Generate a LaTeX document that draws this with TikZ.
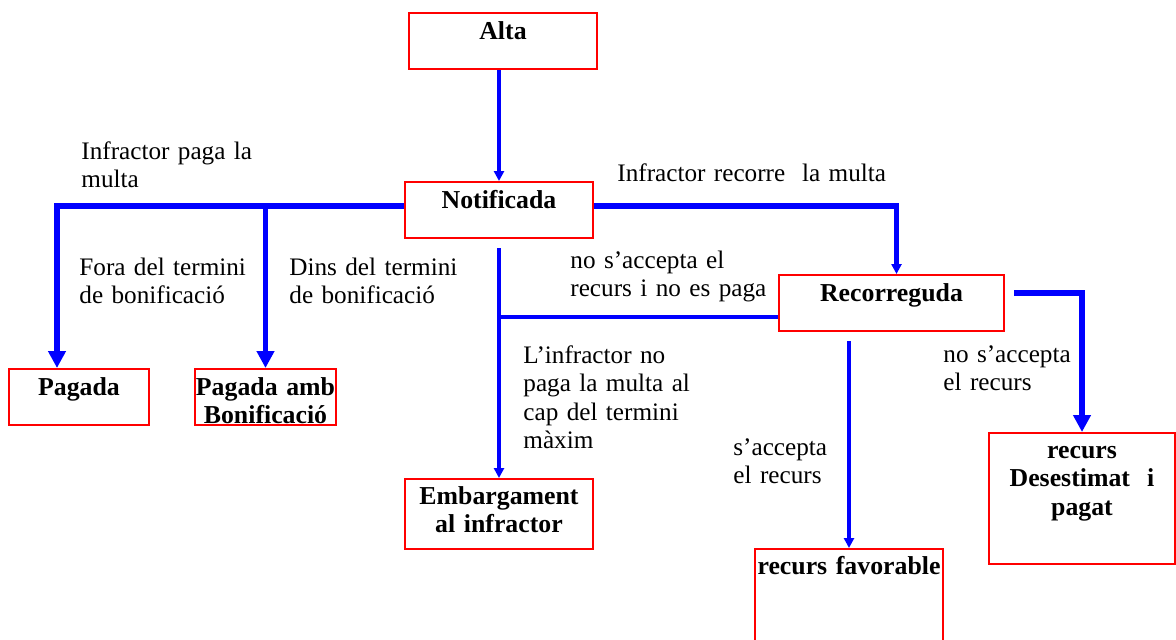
\documentclass[tikz,border=0pt]{standalone}
\usepackage{fontspec}
\setmainfont{Liberation Serif}
\usepackage{tikz}
\usetikzlibrary{arrows.meta}

\tikzset{
  estat/.style={draw=red, line width=1pt, font=\fontsize{12.9}{14.3}\selectfont\bfseries,
    inner sep=0pt, anchor=north, align=center, text height=13pt},
  nota/.style={anchor=base west, inner sep=0pt, align=left, text width=200pt,
    font=\fontsize{12.6}{14.3}\selectfont},
  flux/.style={draw=blue, line width=2pt},
  fluxgruix/.style={draw=blue, line width=2.7pt},
  puntapetita/.style={-{Triangle[width=5pt,length=5pt]}},
  puntagran/.style={-{Triangle[width=8.5pt,length=8.5pt]}}
}

\begin{document}
\begin{tikzpicture}[x=0.5pt,y=-0.5pt]
            \useasboundingbox (0,0) rectangle (1176,639);
            % estats
            \node[estat,text width=94pt,minimum width=94pt,text depth=15pt] (alta) at (503,12) {Alta};
            \node[estat,text width=94pt,minimum width=94pt,text depth=15pt] (noti) at (499,181) {Notificada};
            \node[estat,text width=112.5pt,minimum width=112.5pt,text depth=15pt] (recorr) at (891.5,274) {Recorreguda};
            \node[estat,text width=70pt,minimum width=70pt,text depth=15pt] (pagada) at (79,368) {Pagada};
            \node[estat,text width=70.5pt,minimum width=70.5pt,text depth=15pt] (pagbon) at (265.5,368) {Pagada amb\\Bonificació};
            \node[estat,text width=94pt,minimum width=94pt,text height=12.5pt,text depth=22.5pt] (embarg) at (499,478) {Embargament\\al infractor};
            \node[estat,text width=94pt,minimum width=94pt,text height=12.5pt,text depth=37.5pt] (recfav) at (849,548) {recurs favorable};
            \node[estat,text width=93pt,minimum width=93pt,text height=12.5pt,text depth=53pt] (desest) at (1082,432) {recurs\\Desestimat\ \ i\\pagat};
            % fletxes
            \coordinate (esq) at ([yshift=2pt]noti.west);
            \coordinate (dre) at ([yshift=2pt]noti.east);
            \coordinate (rw) at ([yshift=-7pt]recorr.west);
            \coordinate (rs) at ([yshift=-4.5pt]recorr.south);
            \coordinate (re) at ([xshift=4.5pt,yshift=5pt]recorr.east);
            \draw[flux,puntapetita] (noti.north |- alta.south) -- (noti.north);
            \draw[fluxgruix,puntagran] (esq) -| ([xshift=-11pt]pagada.north);
            \draw[fluxgruix,puntagran] (esq -| pagbon.north) -- (pagbon.north);
            \draw[fluxgruix,puntapetita] (dre) -| ([xshift=2.5pt]recorr.north);
            \draw[flux,puntapetita] ([yshift=-4.5pt]noti.south) -- (embarg.north);
            \draw[flux] (rw) -- (rw -| noti.south);
            \draw[flux,puntapetita] (rs -| recfav.north) -- (recfav.north);
            \draw[fluxgruix,puntagran] (re) -| (desest.north);
            % textos
            \node[nota] (t1) at (81,159) {Infractor paga la\\multa};
            \node[nota] (t2) at (617,181) {Infractor recorre\ \ la multa};
            \node[nota] (t3) at (79,275) {Fora del termini\\de bonificació};
            \node[nota] (t4) at (289,275) {Dins del termini\\de bonificació};
            \node[nota] (t5) at (570,268) {no s’accepta el\\recurs i no es paga};
            \node[nota] (t6) at (523,363) {L’infractor no\\paga la multa al\\cap del termini\\màxim};
            \node[nota] (t7) at (733,455) {s’accepta\\el recurs};
            \node[nota] (t8) at (943,362) {no s’accepta\\el recurs};
        \end{tikzpicture}
\end{document}
